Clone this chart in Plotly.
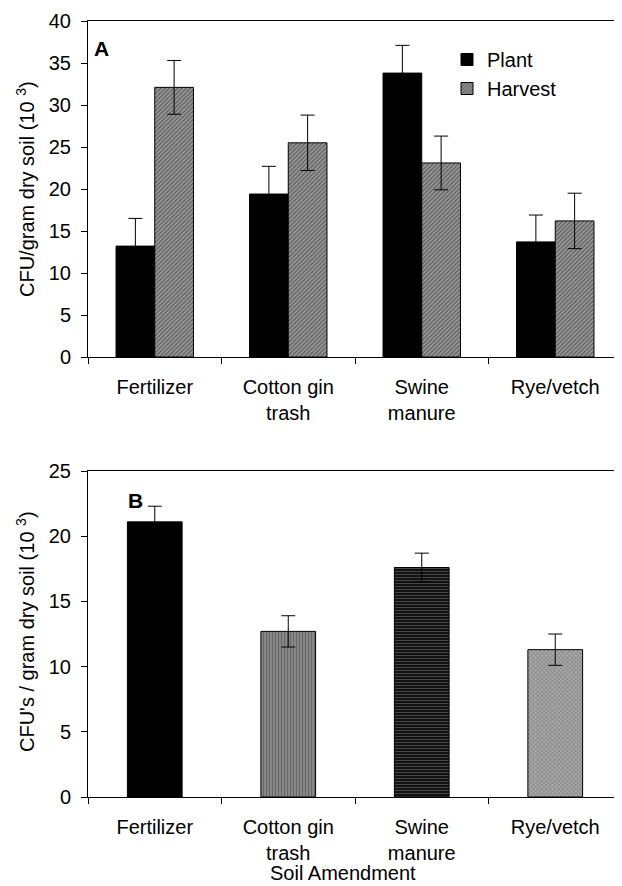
import plotly.graph_objects as go

categories = ["Fertilizer", "Cotton gin<br>trash", "Swine<br>manure", "Rye/vetch"]

plant_vals = [13.2, 19.4, 33.8, 13.7]
plant_err = [3.3, 3.3, 3.3, 3.2]
harvest_vals = [32.1, 25.5, 23.1, 16.2]
harvest_err = [3.2, 3.3, 3.2, 3.3]

b_vals = [21.1, 12.7, 17.6, 11.3]
b_err = [1.2, 1.2, 1.1, 1.2]

FONT = "Liberation Sans, Arial, sans-serif"
FS = 20

# the page body adds an 8px offset; work in page pixels
OFF = 8
W, H = 622 - OFF, 886 - OFF
ML, MR, MT = 88 - OFF, 0, 21 - OFF
MB = H - (797 - OFF)
PW = W - ML - MR
PH = H - MT - MB


def py(ypage):
    return 1 - (ypage - OFF - MT) / PH


def px(xpage):
    return (xpage - OFF - ML) / PW


fig = go.Figure()

err_style = dict(type="data", color="black", thickness=1, width=7)

fig.add_trace(go.Bar(
    x=categories, y=plant_vals, name="Plant",
    offset=-0.29, width=0.29,
    marker=dict(color="black", line=dict(color="black", width=1)),
    error_y=dict(array=plant_err, **err_style),
    xaxis="x", yaxis="y",
))
fig.add_trace(go.Bar(
    x=categories, y=harvest_vals, name="Harvest",
    offset=0.0, width=0.29,
    marker=dict(color="#9c9c9c", line=dict(color="black", width=1),
                pattern=dict(shape="/", fgcolor="#222222", bgcolor="#9c9c9c",
                             size=3, solidity=0.45)),
    error_y=dict(array=harvest_err, **err_style),
    xaxis="x", yaxis="y",
))

fig.add_trace(go.Bar(
    x=categories, y=b_vals, name="B", showlegend=False,
    width=0.41,
    marker=dict(color=["black", "#8a8a8a", "#111111", "#a8a8a8"],
                line=dict(color="black", width=1),
                pattern=dict(shape=["", "|", "-", "x"],
                             fgcolor=["black", "#1a1a1a", "#7a7a7a", "#444444"],
                             bgcolor=["black", "#8a8a8a", "#0a0a0a", "#b0b0b0"],
                             size=[4, 3, 3, 3], solidity=[0.3, 0.4, 0.15, 0.35])),
    error_y=dict(array=b_err, **err_style),
    xaxis="x2", yaxis="y2",
))

axis_common = dict(showline=True, linecolor="black", linewidth=1, ticks="outside",
                   ticklen=6, tickcolor="black", showgrid=False, zeroline=False,
                   tickfont=dict(family=FONT, size=FS, color="black"))
xaxis_common = dict(type="category", tickson="boundaries", mirror=True,
                    range=[-0.5, 3.5], ticklabelstandoff=12, **axis_common)
yaxis_common = dict(dtick=5, ticklabelstandoff=6, **axis_common)

fig.update_layout(
    width=W, height=H,
    margin=dict(l=ML, r=MR, t=MT, b=MB),
    paper_bgcolor="white", plot_bgcolor="white",
    barmode="overlay",
    font=dict(family=FONT, size=FS, color="black"),
    xaxis=dict(domain=[0, 1], anchor="y", **xaxis_common),
    yaxis=dict(domain=[py(357), 1], anchor="x", range=[0, 40], **yaxis_common),
    xaxis2=dict(domain=[0, 1], anchor="y2", **xaxis_common),
    yaxis2=dict(domain=[0, py(471)], anchor="x2", range=[0, 25], **yaxis_common),
    legend=dict(x=px(447), y=py(40), xanchor="left", yanchor="top",
                font=dict(family=FONT, size=FS), bgcolor="rgba(0,0,0,0)"),
    showlegend=True,
)

ann = dict(xref="paper", yref="paper", showarrow=False, xanchor="center", yanchor="middle")
fig.add_annotation(text="<b>A</b>", x=px(101), y=py(49),
                   font=dict(family=FONT, size=21), **ann)
fig.add_annotation(text="<b>B</b>", x=px(135), y=py(500),
                   font=dict(family=FONT, size=21), **ann)
fig.add_annotation(text="CFU/gram dry soil (10 <sup>3</sup>)", textangle=-90,
                   x=px(25), y=py(189), font=dict(family=FONT, size=FS), **ann)
fig.add_annotation(text="CFU's / gram dry soil (10 <sup>3</sup>)", textangle=-90,
                   x=px(25), y=py(632), font=dict(family=FONT, size=FS), **ann)
fig.add_annotation(text="Soil Amendment", x=px(343), y=py(873),
                   font=dict(family=FONT, size=FS), **ann)

fig.write_html("out.html")
